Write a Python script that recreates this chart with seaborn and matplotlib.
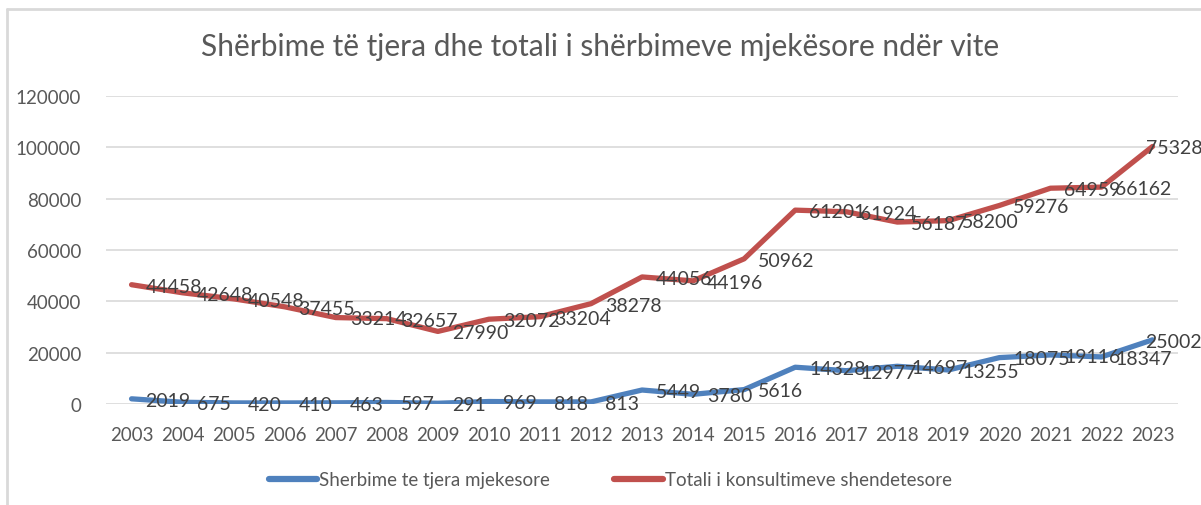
import numpy as np
import pandas as pd
import seaborn as sns
import matplotlib.pyplot as plt
from matplotlib.lines import Line2D

# ── Data ──────────────────────────────────────────────────────
years = list(range(2003, 2024))

# other medical services (bottom series)
sherbime_tjera = [2019, 675, 420, 410, 463, 597, 291, 969, 818, 813,
                  5449, 3780, 5616, 14328, 12977, 14697, 13255, 18075,
                  19116, 18347, 25002]

# health consultations (stacked on top of the first series)
totali_konsultime = [44458, 42648, 40548, 37455, 33214, 32657, 27990, 32072,
                     33204, 38278, 44056, 44196, 50962, 61201, 61924, 56187,
                     58200, 59276, 64959, 66162, 75328]

y_ticks = [0, 20000, 40000, 60000, 80000, 100000, 120000]

title = "Shërbime të tjera dhe totali i shërbimeve mjekësore ndër vite"
label_blue = "Sherbime te tjera mjekesore"
label_red = "Totali i konsultimeve shendetesore"

BLUE = "#4F81BD"
RED = "#C0504D"
GRAY = "#595959"

# stacked line chart: red line sits on top of blue
df = pd.DataFrame({"year": years,
                   "blue": sherbime_tjera,
                   "red": totali_konsultime})
df["red_stacked"] = df["blue"] + df["red"]

sns.set_style("white")
plt.rcParams["font.family"] = ["Lato", "DejaVu Sans"]

fig = plt.figure(figsize=(12.01, 5.06), dpi=100)
ax = fig.add_axes([0.0883, 0.1996, 0.8926, 0.6087])

sns.lineplot(data=df, x="year", y="blue", color=BLUE, linewidth=3.8,
             ax=ax, solid_capstyle="round")
sns.lineplot(data=df, x="year", y="red_stacked", color=RED, linewidth=3.8,
             ax=ax, solid_capstyle="round")

# data labels to the right of each point (Excel "Right" position),
# the last one is pulled back so it stays inside the chart
last = years[-1]
for _, r in df.iterrows():
    dx = -5 if r["year"] == last else 10
    ax.annotate(f"{int(r['blue'])}", (r["year"], r["blue"]),
                xytext=(dx, -1), textcoords="offset points",
                ha="left", va="center", fontsize=14, color="#404040")
    ax.annotate(f"{int(r['red'])}", (r["year"], r["red_stacked"]),
                xytext=(dx, -1), textcoords="offset points",
                ha="left", va="center", fontsize=14, color="#404040")

ax.set_xlim(2002.5, 2023.5)
ax.set_ylim(0, 120000)
ax.set_xticks(years)
ax.set_xticklabels([str(y) for y in years])
ax.set_yticks(y_ticks)
ax.set_yticklabels([str(v) for v in y_ticks])
ax.tick_params(axis="both", length=0, labelsize=13.5, colors=GRAY)
ax.tick_params(axis="x", pad=16)
ax.tick_params(axis="y", pad=18)
ax.grid(axis="y", color="#D9D9D9", linewidth=1.2)
ax.set_axisbelow(True)
ax.set_xlabel("")
ax.set_ylabel("")
sns.despine(ax=ax, left=True, bottom=True)

fig.text(0.5, 0.907, title, ha="center", va="center",
         fontsize=21.5, color=GRAY)

handles = [Line2D([0], [0], color=BLUE, linewidth=4.5),
           Line2D([0], [0], color=RED, linewidth=4.5)]
fig.legend(handles, [label_blue, label_red], loc="center",
           bbox_to_anchor=(0.508, 0.05), ncol=2, frameon=False,
           fontsize=13.5, labelcolor=GRAY, handlelength=2.6,
           handletextpad=0.1, columnspacing=3.4)

# chart border (top and left edges visible in the crop)
fig.add_artist(Line2D([0.006, 1.0], [0.980, 0.980], color="#D9D9D9",
                      linewidth=2, transform=fig.transFigure))
fig.add_artist(Line2D([0.006, 0.006], [0.0, 0.980], color="#D9D9D9",
                      linewidth=2, transform=fig.transFigure))

plt.savefig("out.png", dpi=100)
plt.close()
